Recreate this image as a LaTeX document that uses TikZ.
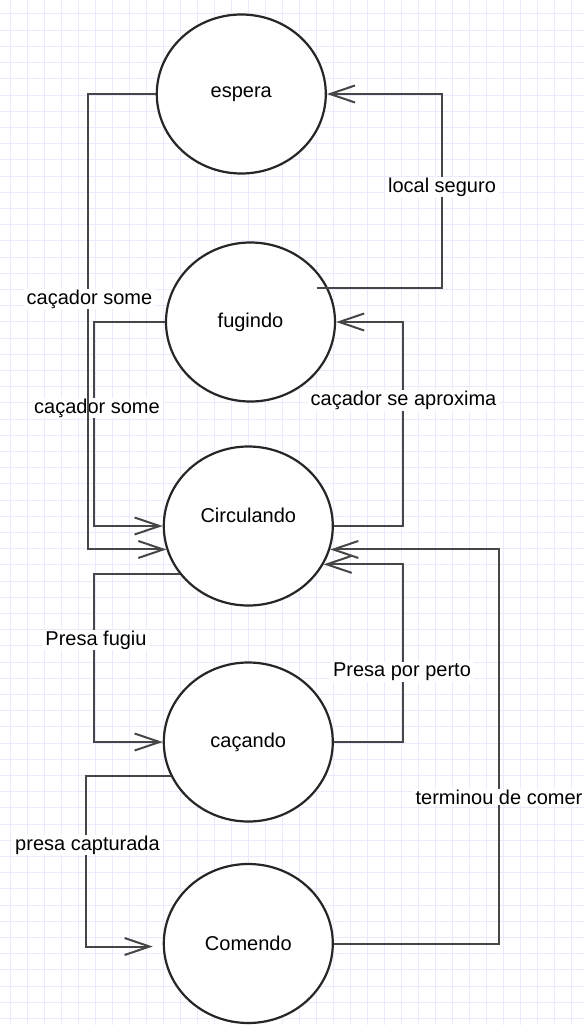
\documentclass[tikz,border=0pt]{standalone}
\usepackage{fontspec}
\setmainfont{Liberation Sans}
\usetikzlibrary{shapes.geometric,arrows.meta,calc}
\definecolor{gridc}{RGB}{234,234,252}
\definecolor{edgec}{RGB}{70,70,70}
\definecolor{statec}{RGB}{38,38,38}
\begin{document}
\begin{tikzpicture}[x=1pt,y=-1pt,
  state/.style={ellipse,draw=statec,line width=2.2pt,fill=white,minimum width=169pt,minimum height=159pt,inner sep=0pt,font=\fontsize{20}{24}\selectfont},
  statetext/.style={inner sep=0pt,font=\fontsize{20}{24}\selectfont},
  edge/.style={draw=edgec,line width=2pt,-{Straight Barb[length=25pt,width=17pt]}},
  lbl/.style={fill=white,inner xsep=3pt,inner ysep=1pt,font=\fontsize{20}{24}\selectfont,text=black}]
\useasboundingbox (0,0) rectangle (584,1025);
\fill[white] (0,0) rectangle (584,1025);
% grid
\foreach \i in {0,...,33} \draw[gridc,line width=1pt] ({10.7+17*\i},0) -- ({10.7+17*\i},1025);
\foreach \j in {0,...,62} \draw[gridc,line width=1pt] (0,{14+16.2*\j}) -- (584,{14+16.2*\j});
% states
\node[state] (esp) at (241.3,94) {espera};
\node[state] (fug) at (250.5,322) {fugindo};
\node[state] (circ) at (248.3,526) {};
\node[statetext] (circtxt) at ($(circ.center)+(0,-11)$) {Circulando};
\node[state] (cac) at (248.3,742) {caçando};
\node[state] (com) at (248.3,943.5) {Comendo};
% fugindo -> Circulando
\draw[edge] (fug.west) -- ++(-71,0) |- (circ.west);
\node[lbl] (l2) at (97,408) {caçador some};
% espera -> Circulando
\draw[edge] (esp.west) -- ++(-68.2,0) |- (circ.196.4);
\node[lbl] (l1) at (89.5,299) {caçador some};
% Circulando -> fugindo
\draw[edge] (circ.east) -- ++(69.2,0) |- (fug.east);
\node[lbl] (l3) at (403.5,400.7) {caçador se aproxima};
% fugindo -> espera
\coordinate (fugout) at ($(fug.center)+(66,-34)$);
\draw[edge] (fugout) -- ++(125.5,0) |- (esp.east);
\node[lbl] (l4) at (442,187) {local seguro};
% Circulando -> caçando
\draw[edge] (circ.215) -| ($(cac.west)+(-68.8,0)$) -- (cac.west);
\node[lbl] (l5) at (96,640) {Presa fugiu};
% caçando -> Circulando
\draw[edge] (cac.east) -- ++(69.2,0) |- (circ.333.8);
\node[lbl] (l6) at (402,672) {Presa por perto};
% Comendo -> Circulando
\draw[edge] (com.east) -- ++(165.2,0) |- (circ.344.1);
\node[lbl] (l7) at (499,797) {terminou de comer};
% caçando -> Comendo
\draw[edge] (cac.204.8) -| ($(com.west)+(-77,3)$) -- ($(com.west)+(-10,3)$);
\node[lbl] (l8) at (87.5,845) {presa capturada};
\end{tikzpicture}
\end{document}
